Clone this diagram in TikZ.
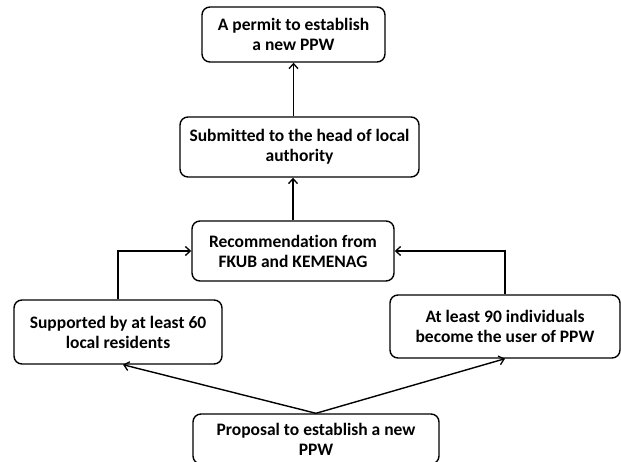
\documentclass[tikz,border=0pt]{standalone}
\usepackage{fontspec}
\setmainfont{Carlito}[Ligatures=NoCommon]
\usetikzlibrary{arrows.meta}
\begin{document}
\begin{tikzpicture}[x=1pt,y=-1pt,
  box/.style={draw, line width=1.4pt, rounded corners=8pt, align=center,
    font=\bfseries\fontsize{17.5}{20}\selectfont, inner sep=0pt},
  conn/.style={line width=1.4pt, -{Straight Barb[length=5pt,width=9pt,line width=1.3pt]}}]
\useasboundingbox (0,0) rectangle (621,462);
\fill[white] (0,0) rectangle (621,462);
\node[box, minimum width=183pt, minimum height=55pt] (permit) at (293.5,34.5) {A permit to establish\\a new PPW};
\node[box, minimum width=239pt, minimum height=60pt] (submit) at (299.5,147) {Submitted to the head of local\\authority};
\node[box, minimum width=202pt, minimum height=60pt] (rec) at (293,251) {Recommendation from\\FKUB and KEMENAG};
\node[box, minimum width=208pt, minimum height=64pt] (left) at (118,332) {Supported by at least 60\\local residents};
\node[box, minimum width=230pt, minimum height=63pt] (right) at (505,326.5) {At least 90 individuals\\become the user of PPW};
\node[box, minimum width=246pt, minimum height=50pt] (prop) at (316,439) {Proposal to establish a new\\PPW};
\draw[conn] (submit.north -| permit.south) -- (permit.south);
\draw[conn] (rec.north) -- (rec.north |- submit.south);
\draw[conn] (left.north) |- (rec.west);
\draw[conn] (right.north) |- (rec.east);
\draw[conn] (prop.north) -- ([xshift=5pt]left.south);
\draw[conn] (prop.north) -- (right.south);
\end{tikzpicture}
\end{document}
